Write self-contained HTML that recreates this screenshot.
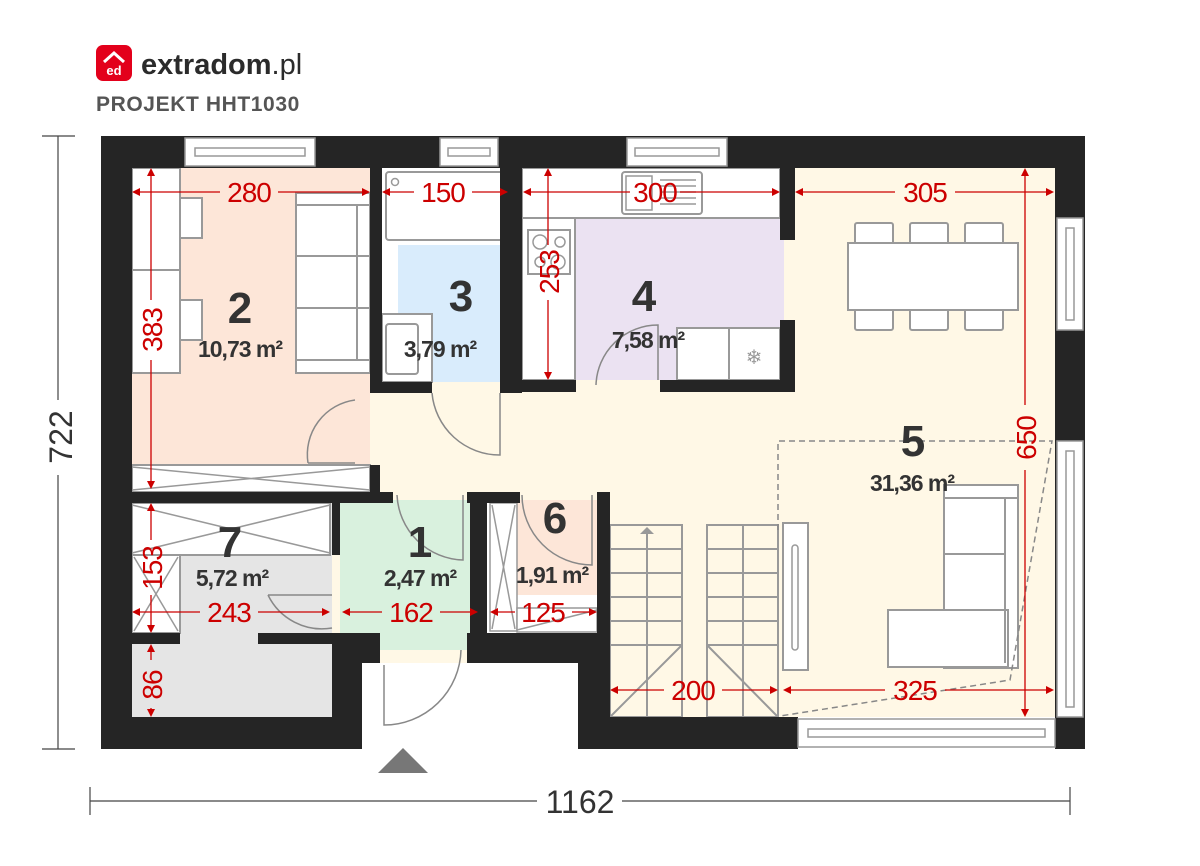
<!DOCTYPE html>
<html><head><meta charset="utf-8"><style>
body{margin:0;background:#fff;}
svg{display:block;font-family:"Liberation Sans",sans-serif;}
</style></head><body>
<svg width="1200" height="866" viewBox="0 0 1200 866" xmlns="http://www.w3.org/2000/svg">
<!-- logo -->
<rect x="96" y="45" width="36" height="36" rx="7" fill="#e3001b"/>
<path d="M104 62 L114 53 L124 62" stroke="#fff" stroke-width="3" fill="none"/>
<text x="114" y="75" font-size="13" font-weight="bold" fill="#fff" text-anchor="middle">ed</text>
<text x="141" y="74" font-size="29" font-weight="bold" fill="#2b2b2b">extradom<tspan font-weight="normal">.pl</tspan></text>
<text x="96" y="111" font-size="21" font-weight="bold" fill="#555" letter-spacing="0.6">PROJEKT HHT1030</text>

<!-- floors -->
<rect x="132" y="168" width="923" height="549" fill="#fff8e6"/>
<rect x="132" y="168" width="238" height="297" fill="#fde6d8"/>
<rect x="132" y="168" width="48" height="205" fill="#fff" stroke="#999" stroke-width="2"/>
<line x1="132" y1="270" x2="180" y2="270" stroke="#999" stroke-width="2"/>
<rect x="180" y="198" width="22" height="40" fill="#fff" stroke="#999" stroke-width="2"/>
<rect x="180" y="300" width="22" height="40" fill="#fff" stroke="#999" stroke-width="2"/>
<rect x="296" y="193" width="74" height="180" fill="#fff" stroke="#999" stroke-width="2"/>
<line x1="296" y1="205" x2="370" y2="205" stroke="#999" stroke-width="2"/>
<line x1="296" y1="256" x2="370" y2="256" stroke="#999" stroke-width="2"/>
<line x1="296" y1="308" x2="370" y2="308" stroke="#999" stroke-width="2"/>
<line x1="296" y1="360" x2="370" y2="360" stroke="#999" stroke-width="2"/>
<line x1="357" y1="205" x2="357" y2="360" stroke="#999" stroke-width="2"/>
<rect x="132" y="465" width="238" height="27" fill="#fff" stroke="#999" stroke-width="2"/>
<path d="M132 467 L370 490 M132 490 L370 467" stroke="#999" stroke-width="1.5"/>
<!-- room 3 -->
<rect x="382" y="168" width="118" height="214" fill="#fff"/>
<rect x="398" y="245" width="102" height="137" fill="#d9ecfc"/>
<rect x="386" y="172" width="122" height="68" rx="3" fill="#fff" stroke="#999" stroke-width="2"/>
<circle cx="395" cy="182" r="3.5" fill="none" stroke="#999" stroke-width="1.5"/>
<rect x="382" y="314" width="50" height="68" fill="#fff" stroke="#999" stroke-width="2"/>
<rect x="386" y="324" width="32" height="50" rx="3" fill="none" stroke="#999" stroke-width="2"/>
<!-- kitchen -->
<rect x="522" y="168" width="262" height="212" fill="#ebe2f2"/>
<rect x="522" y="168" width="258" height="50" fill="#fff" stroke="#999" stroke-width="2"/>
<rect x="622" y="172" width="80" height="42" rx="3" fill="#fff" stroke="#999" stroke-width="2"/>
<rect x="626" y="176" width="26" height="34" fill="none" stroke="#999" stroke-width="1.5"/>
<path d="M660 180h36M660 186h36M660 192h36M660 198h36M660 204h36" stroke="#999" stroke-width="1.5"/>
<rect x="522" y="218" width="53" height="162" fill="#fff" stroke="#999" stroke-width="2"/>
<rect x="528" y="230" width="42" height="44" fill="#fff" stroke="#999" stroke-width="2"/>
<circle cx="540" cy="242" r="7" fill="none" stroke="#999" stroke-width="1.5"/><circle cx="560" cy="242" r="5" fill="none" stroke="#999" stroke-width="1.5"/>
<circle cx="540" cy="262" r="5" fill="none" stroke="#999" stroke-width="1.5"/><circle cx="558" cy="262" r="7" fill="none" stroke="#999" stroke-width="1.5"/>
<rect x="677" y="328" width="103" height="52" fill="#fff" stroke="#999" stroke-width="2"/>
<line x1="729" y1="328" x2="729" y2="380" stroke="#999" stroke-width="2"/>
<text x="754" y="364" font-size="20" fill="#999" text-anchor="middle">❄</text>
<!-- dining -->
<g fill="#fff" stroke="#999" stroke-width="2">
<rect x="855" y="223" width="38" height="22" rx="2"/><rect x="910" y="223" width="38" height="22" rx="2"/><rect x="965" y="223" width="38" height="22" rx="2"/>
<rect x="855" y="308" width="38" height="22" rx="2"/><rect x="910" y="308" width="38" height="22" rx="2"/><rect x="965" y="308" width="38" height="22" rx="2"/>
<rect x="848" y="243" width="170" height="67"/>
</g>
<!-- room 7 -->
<rect x="132" y="503" width="200" height="214" fill="#e5e5e5"/>
<rect x="132" y="503" width="198" height="52" fill="#fff" stroke="#999" stroke-width="2"/>
<path d="M132 505 L330 553 M132 553 L330 505" stroke="#999" stroke-width="1.5"/>
<rect x="132" y="555" width="48" height="78" fill="#fff" stroke="#999" stroke-width="2"/>
<path d="M134 557 L178 631 M134 631 L178 557" stroke="#999" stroke-width="1.5"/>
<!-- room 1 -->
<rect x="340" y="500" width="130" height="150" fill="#d9f1de"/>
<!-- room 6 -->
<rect x="487" y="500" width="110" height="133" fill="#fff"/>
<rect x="517" y="500" width="80" height="95" fill="#fde6d8"/>
<rect x="490" y="503" width="27" height="128" fill="#fff" stroke="#999" stroke-width="1.5"/>
<path d="M492 505 L515 629 M492 629 L515 505" stroke="#999" stroke-width="1.5"/>
<rect x="517" y="608" width="80" height="24" fill="#fff" stroke="#999" stroke-width="1.5"/>
<path d="M517 630 L597 610" stroke="#999" stroke-width="1.5"/>
<!-- entry -->
<rect x="362" y="663" width="216" height="86" fill="#fff"/>
<!-- stairs -->
<g stroke="#999" stroke-width="2" fill="none">
<rect x="610" y="525" width="72" height="192"/><rect x="707" y="525" width="71" height="192"/>
<path d="M610 549h72M610 573h72M610 597h72M610 621h72M610 645h72M707 549h71M707 573h71M707 597h71M707 621h71M707 645h71"/>
<line x1="647" y1="530" x2="647" y2="717"/><line x1="743" y1="525" x2="743" y2="717"/>
<path d="M610 717 L682 645 M707 645 L778 717"/>
</g>
<polygon points="647,527 640,534 654,534" fill="#999"/>
<!-- tv -->
<rect x="783" y="523" width="25" height="147" fill="#fff" stroke="#999" stroke-width="2"/>
<rect x="792" y="545" width="6" height="105" rx="3" fill="none" stroke="#999" stroke-width="1.5"/>
<!-- sofa -->
<g fill="#fff" stroke="#999" stroke-width="2">
<rect x="944" y="485" width="74" height="183"/>
<rect x="888" y="610" width="120" height="57"/>
<path d="M944 498h74M1005 498v165M944 554h61"/>
</g>
<path d="M778 530 V441 H1052 L1010 680 L780 716" fill="none" stroke="#888" stroke-width="1.5" stroke-dasharray="6,4"/>

<!-- walls -->
<g fill="#252525">
<rect x="101" y="136" width="984" height="32"/>
<rect x="101" y="136" width="31" height="613"/>
<rect x="1055" y="136" width="30" height="613"/>
<rect x="101" y="717" width="261" height="32"/>
<rect x="578" y="717" width="220" height="32"/>
<rect x="370" y="168" width="12" height="225"/>
<rect x="370" y="382" width="62" height="11"/>
<rect x="500" y="168" width="22" height="225"/>
<rect x="500" y="380" width="76" height="12"/>
<rect x="660" y="380" width="135" height="12"/>
<rect x="780" y="168" width="15" height="72"/>
<rect x="780" y="320" width="15" height="72"/>
<rect x="370" y="465" width="10" height="38"/>
<rect x="132" y="492" width="261" height="11"/>
<rect x="467" y="492" width="53" height="11"/>
<rect x="470" y="492" width="17" height="141"/>
<rect x="597" y="492" width="13" height="141"/>
<rect x="332" y="503" width="8" height="52"/>
<rect x="132" y="633" width="48" height="11"/>
<rect x="258" y="633" width="74" height="11"/>
<rect x="332" y="633" width="30" height="116"/>
<rect x="332" y="633" width="48" height="30"/>
<rect x="467" y="633" width="143" height="30"/>
<rect x="578" y="633" width="32" height="116"/>
</g>
<!-- windows -->
<g fill="#fff" stroke="#999" stroke-width="1.5">
<rect x="185" y="138" width="130" height="28"/><rect x="195" y="148" width="110" height="8"/>
<rect x="440" y="138" width="58" height="28"/><rect x="448" y="148" width="42" height="8"/>
<rect x="627" y="138" width="100" height="28"/><rect x="635" y="148" width="84" height="8"/>
<rect x="1057" y="218" width="26" height="112"/><rect x="1066" y="228" width="8" height="92"/>
<rect x="1057" y="441" width="26" height="276"/><rect x="1066" y="451" width="8" height="256"/>
<rect x="798" y="719" width="257" height="28"/><rect x="808" y="729" width="237" height="8"/>
</g>
<!-- doors -->
<g fill="none" stroke="#888" stroke-width="1.5">
<path d="M308 463 A55 55 0 0 1 355 400"/><line x1="308" y1="463" x2="355" y2="463"/>
<path d="M432 393 A68 68 0 0 0 500 455 V393"/>
<path d="M596 385 A62 62 0 0 1 658 325 V380"/>
<path d="M397 495 A68 68 0 0 0 463 560 V495"/>
<path d="M522 495 A70 70 0 0 0 592 565 V495"/>
<path d="M268 595 A60 60 0 0 0 332 628 M268 595 H332"/>
<path d="M384 665 V725 A77 77 0 0 0 461 650"/>
</g>
<polygon points="403,748 378,773 428,773" fill="#777"/>

<!-- dimensions -->
<g stroke="#c00" stroke-width="1.3" fill="#c00">
<line x1="134" y1="192" x2="220" y2="192"/><line x1="278" y1="192" x2="368" y2="192"/>
<line x1="384" y1="192" x2="414" y2="192"/><line x1="472" y1="192" x2="506" y2="192"/>
<line x1="525" y1="192" x2="630" y2="192"/><line x1="680" y1="192" x2="778" y2="192"/>
<line x1="797" y1="192" x2="895" y2="192"/><line x1="955" y1="192" x2="1052" y2="192"/>
<line x1="151" y1="170" x2="151" y2="300"/><line x1="151" y1="360" x2="151" y2="487"/>
<line x1="548" y1="170" x2="548" y2="245"/><line x1="548" y1="300" x2="548" y2="378"/>
<line x1="1025" y1="170" x2="1025" y2="405"/><line x1="1025" y1="470" x2="1025" y2="715"/>
<line x1="151" y1="505" x2="151" y2="540"/><line x1="151" y1="595" x2="151" y2="631"/>
<line x1="151" y1="646" x2="151" y2="660"/><line x1="151" y1="708" x2="151" y2="715"/>
<line x1="134" y1="612" x2="200" y2="612"/><line x1="258" y1="612" x2="328" y2="612"/>
<line x1="344" y1="612" x2="382" y2="612"/><line x1="440" y1="612" x2="476" y2="612"/>
<line x1="492" y1="612" x2="515" y2="612"/><line x1="572" y1="612" x2="595" y2="612"/>
<line x1="612" y1="690" x2="664" y2="690"/><line x1="722" y1="690" x2="776" y2="690"/>
<line x1="785" y1="690" x2="885" y2="690"/><line x1="945" y1="690" x2="1052" y2="690"/>
</g>
<g fill="#c00">
<path d="M132 192l8-4v8zM370 192l-8-4v8zM382 192l8-4v8zM508 192l-8-4v8zM523 192l8-4v8zM780 192l-8-4v8zM795 192l8-4v8zM1054 192l-8-4v8z"/>
<path d="M151 168l-4 8h8zM151 489l-4-8h8zM548 168l-4 8h8zM548 380l-4-8h8zM1025 168l-4 8h8zM1025 717l-4-8h8z"/>
<path d="M151 503l-4 8h8zM151 633l-4-8h8zM151 644l-4 8h8zM151 717l-4-8h8z"/>
<path d="M132 612l8-4v8zM330 612l-8-4v8zM342 612l8-4v8zM478 612l-8-4v8zM490 612l8-4v8zM597 612l-8-4v8z"/>
<path d="M610 690l8-4v8zM778 690l-8-4v8zM783 690l8-4v8zM1054 690l-8-4v8z"/>
</g>
<g fill="#c00" font-size="28" text-anchor="middle" letter-spacing="-1">
<text x="249" y="202">280</text><text x="443" y="202">150</text><text x="655" y="202">300</text><text x="925" y="202">305</text>
<text x="229" y="622">243</text><text x="411" y="622">162</text><text x="543" y="622">125</text>
<text x="693" y="700">200</text><text x="915" y="700">325</text>
<text transform="translate(162,330) rotate(-90)">383</text>
<text transform="translate(559,272) rotate(-90)">253</text>
<text transform="translate(1036,438) rotate(-90)">650</text>
<text transform="translate(162,568) rotate(-90)">153</text>
<text transform="translate(162,685) rotate(-90)">86</text>
</g>
<!-- room labels -->
<g fill="#333" text-anchor="middle" font-weight="bold">
<text x="240" y="323" font-size="44">2</text><text x="461" y="311" font-size="44">3</text>
<text x="644" y="311" font-size="44">4</text><text x="913" y="456" font-size="44">5</text>
<text x="230" y="557" font-size="44">7</text><text x="420" y="557" font-size="44">1</text>
<text x="555" y="533" font-size="44">6</text>
<g font-size="23" letter-spacing="-1">
<text x="240" y="357">10,73 m²</text><text x="440" y="357">3,79 m²</text>
<text x="648" y="348">7,58 m²</text><text x="912" y="491">31,36 m²</text>
<text x="232" y="586">5,72 m²</text><text x="420" y="586">2,47 m²</text><text x="552" y="583">1,91 m²</text>
</g></g>
<!-- overall dims -->
<g stroke="#444" stroke-width="1.2">
<line x1="58" y1="136" x2="58" y2="400"/><line x1="58" y1="475" x2="58" y2="749"/>
<line x1="42" y1="136" x2="75" y2="136"/><line x1="42" y1="749" x2="75" y2="749"/>
<line x1="90" y1="801" x2="537" y2="801"/><line x1="622" y1="801" x2="1070" y2="801"/>
<line x1="90" y1="787" x2="90" y2="815"/><line x1="1070" y1="787" x2="1070" y2="815"/>
</g>
<text transform="translate(72,437) rotate(-90)" font-size="32" fill="#333" text-anchor="middle">722</text>
<text x="580" y="813" font-size="32" fill="#333" text-anchor="middle">1162</text>
</svg>
</body></html>
